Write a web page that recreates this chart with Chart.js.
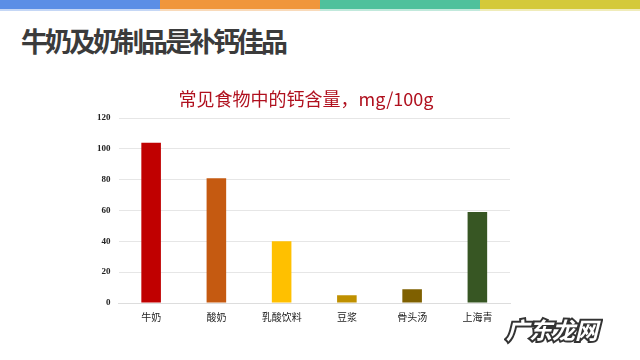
<!DOCTYPE html>
<html><head><meta charset="utf-8">
<script src="https://cdn.jsdelivr.net/npm/chart.js@4/dist/chart.umd.min.js"></script>
<style>
html,body{margin:0;padding:0;background:#fff;width:640px;height:360px;overflow:hidden;font-family:"Noto Sans CJK SC","Noto Sans",sans-serif;}
#bar{position:absolute;left:0;top:0;width:640px;height:9px;display:flex;}
#bar div{flex:1;}
#bar2{position:absolute;left:0;top:9px;width:640px;height:2px;display:flex;opacity:0.35;}
#bar2 div{flex:1;}
#head{position:absolute;left:21px;top:24px;font-size:27px;line-height:34px;font-weight:bold;color:#3b3b3b;letter-spacing:-3px;}
#ctitle{position:absolute;left:0;top:86px;width:612px;text-align:center;font-size:18px;line-height:24px;color:#b0101e;}
#wrap{position:absolute;left:0;top:0;width:640px;height:360px;}
#wm{position:absolute;left:506px;top:314px;font-size:23px;line-height:30px;font-weight:bold;font-style:italic;color:#fff;-webkit-text-stroke:4px #333;paint-order:stroke fill;}
</style></head>
<body>
<div id="bar"><div style="background:#5b8ee6"></div><div style="background:#f0963c"></div><div style="background:#4fc19c"></div><div style="background:#d4c93a"></div></div>
<div id="bar2"><div style="background:#5b8ee6"></div><div style="background:#f0963c"></div><div style="background:#4fc19c"></div><div style="background:#d4c93a"></div></div>
<div id="head">牛奶及奶制品是补钙佳品</div>
<div id="wrap"><canvas id="c" width="640" height="360"></canvas></div>
<div id="ctitle"></div>
<div id="wm">广东龙网</div>
<script>
const categories = ["牛奶","酸奶","乳酸饮料","豆浆","骨头汤","上海青"];
const calcium = [104, 81, 40, 5, 9, 59];
const barColors = ["#c00000","#c55a11","#ffc000","#bf9000","#7f6000","#375623"];
const yTicks = [0,20,40,60,80,100,120];
const chartTitle = "常见食物中的钙含量，mg/100g";
document.getElementById('ctitle').textContent = chartTitle;

new Chart(document.getElementById('c'), {
  type: 'bar',
  data: {
    labels: categories,
    datasets: [{ data: calcium, backgroundColor: barColors, barPercentage: 0.3, categoryPercentage: 1.0 }]
  },
  options: {
    responsive: false,
    animation: false,
    layout: { padding: { left: 89, right: 130, top: 118, bottom: 27 } },
    plugins: {
      legend: { display: false },
      tooltip: { enabled: false },
      title: { display: false }
    },
    scales: {
      x: {
        afterFit: (ax) => { ax.height = 30; },
        grid: { display: false },
        border: { display: true, color: '#dddddd' },
        ticks: { color: '#222', font: { family: '"Noto Sans CJK SC"', size: 10 }, padding: 0 }
      },
      y: {
        min: 0, max: 120,
        afterBuildTicks: (ax) => { ax.ticks = yTicks.map(v => ({ value: v })); },
        grid: { color: '#e6e6e6', drawTicks: false },
        border: { display: false },
        ticks: { color: '#222', font: { family: '"Liberation Serif"', size: 9, weight: 'bold' }, padding: 8 }
      }
    }
  }
});
</script>
</body></html>
